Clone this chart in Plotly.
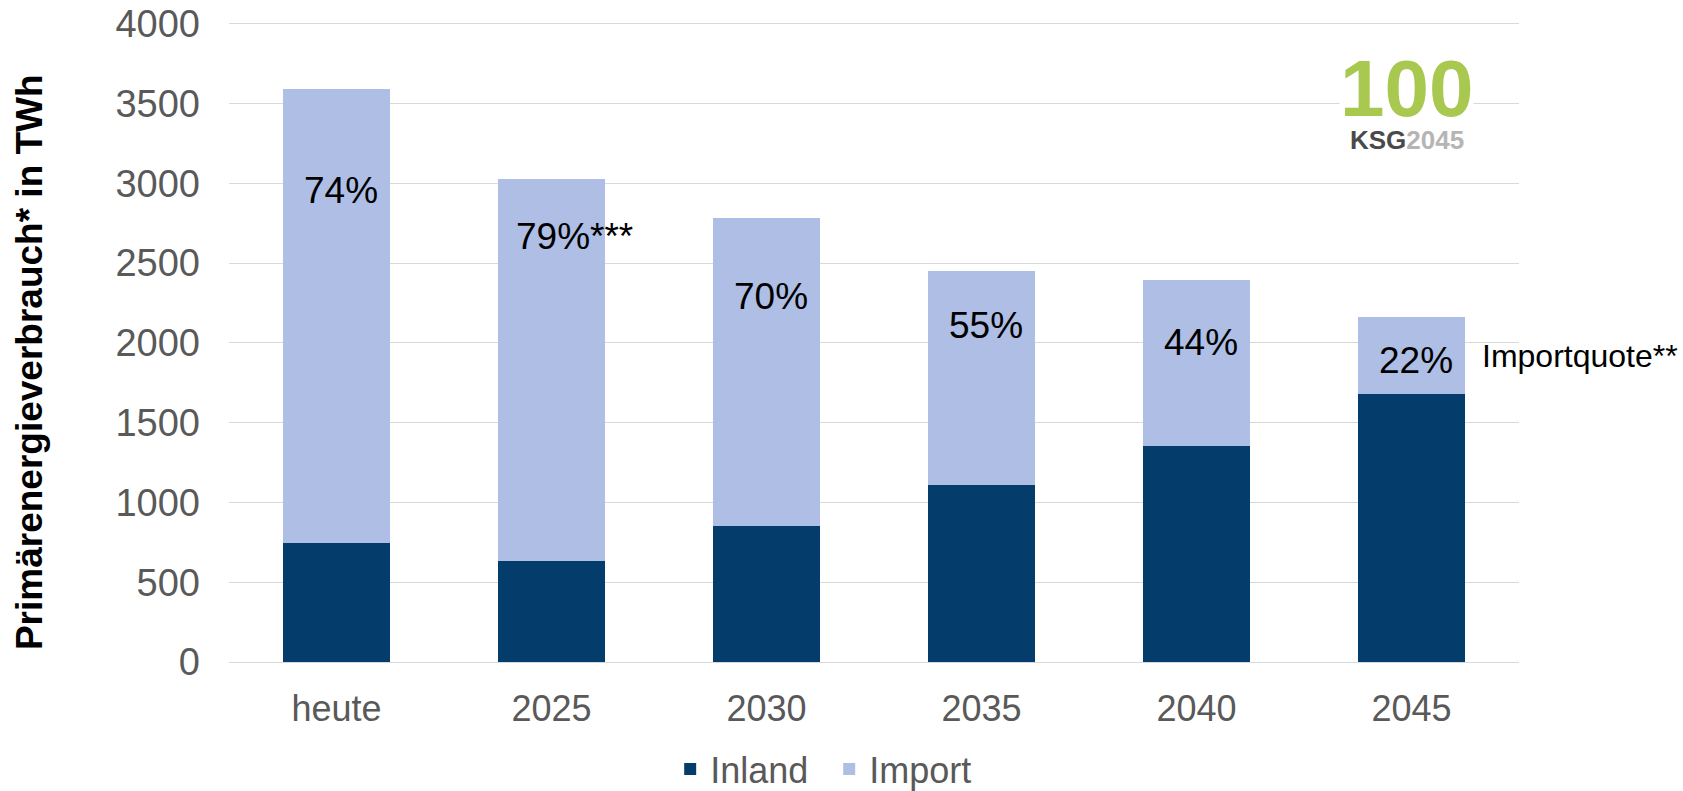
import plotly.graph_objects as go

# ---- data ----
categories = ["heute", "2025", "2030", "2035", "2040", "2045"]
inland = [748, 634, 852, 1109, 1352, 1678]
imports = [2844, 2393, 1928, 1339, 1044, 485]
quote_labels = ["74%", "79%***", "70%", "55%", "44%", "22%"]

# label placement (layout, data units)
label_y = [2952, 2663, 2287, 2107, 2000, 1890]

C_INLAND = "#043C6B"
C_IMPORT = "#AEBEE4"
FONT = "Liberation Sans, Arial, sans-serif"

W, H = 1683, 791
Y_MAX = 4010

fig = go.Figure()
fig.add_trace(go.Bar(name="Inland", x=categories, y=inland,
                     marker=dict(color=C_INLAND, line=dict(width=0))))
fig.add_trace(go.Bar(name="Import", x=categories, y=imports,
                     marker=dict(color=C_IMPORT, line=dict(width=0))))

annotations = []
for i, (lab, ly) in enumerate(zip(quote_labels, label_y)):
    if lab.endswith("***"):
        annotations.append(dict(x=i, y=ly, xref="x", yref="y", text=lab,
                                showarrow=False, xanchor="left", xshift=-38,
                                font=dict(family=FONT, size=37, color="#000000")))
    else:
        annotations.append(dict(x=i, y=ly, xref="x", yref="y", text=lab,
                                showarrow=False, xanchor="center", xshift=4,
                                font=dict(family=FONT, size=37, color="#000000")))

annotations.append(dict(x=1.0, y=1920, xref="paper", yref="y", text="Importquote**",
                        showarrow=False, xanchor="left", xshift=-39,
                        font=dict(family=FONT, size=32, color="#000000")))

# y-axis title (placed as annotation to match its offset)
annotations.append(dict(x=-0.155, y=0.4687, xref="paper", yref="paper",
                        text="<b>Primärenergieverbrauch* in TWh</b>", textangle=-90,
                        showarrow=False, xanchor="center", yanchor="middle",
                        font=dict(family=FONT, size=37, color="#000000")))

# logo
annotations.append(dict(x=0.913, y=0.8964, xref="paper", yref="paper", text="<b>100</b>",
                        showarrow=False, xanchor="center", yanchor="middle",
                        height=66, valign="middle",
                        bgcolor="white", borderpad=0,
                        font=dict(family=FONT, size=80, color="#A9C84F")))
annotations.append(dict(x=0.913, y=0.815, xref="paper", yref="paper",
                        text="<b><span style='color:#4A4A4A'>KSG</span><span style='color:#B5B5B5'>2045</span></b>",
                        showarrow=False, xanchor="center", yanchor="middle",
                        font=dict(family=FONT, size=26, color="#4A4A4A")))

fig.update_layout(
    barmode="stack",
    bargap=0.5,
    width=W, height=H,
    margin=dict(l=229, r=164, t=22.4, b=129.4, pad=0, autoexpand=False),
    plot_bgcolor="white", paper_bgcolor="white",
    font=dict(family=FONT, color="#595959"),
    legend=dict(orientation="h", x=0.342, xanchor="left", y=-0.1675, yanchor="middle",
                font=dict(family=FONT, size=36, color="#595959"),
                entrywidth=114, traceorder="normal"),
    annotations=annotations,
    showlegend=True,
)
fig.update_xaxes(type="category", range=[-0.5, 5.5], showgrid=False, showline=False, ticks="",
                 tickfont=dict(family=FONT, size=36, color="#595959"),
                 ticklabelstandoff=22)
fig.update_yaxes(range=[0, Y_MAX], dtick=500, tick0=0, showgrid=True,
                 gridcolor="#D9D9D9", gridwidth=1.4, zeroline=True, zerolinecolor="#D9D9D9",
                 zerolinewidth=1.4, showline=False, ticks="",
                 tickfont=dict(family=FONT, size=38, color="#595959"),
                 ticklabelstandoff=28)

# remove the browser's default 8px body margin so the figure fills the window exactly
fig.write_html("out.html", config={"displayModeBar": False},
               post_script="document.body.style.margin='0px';")
